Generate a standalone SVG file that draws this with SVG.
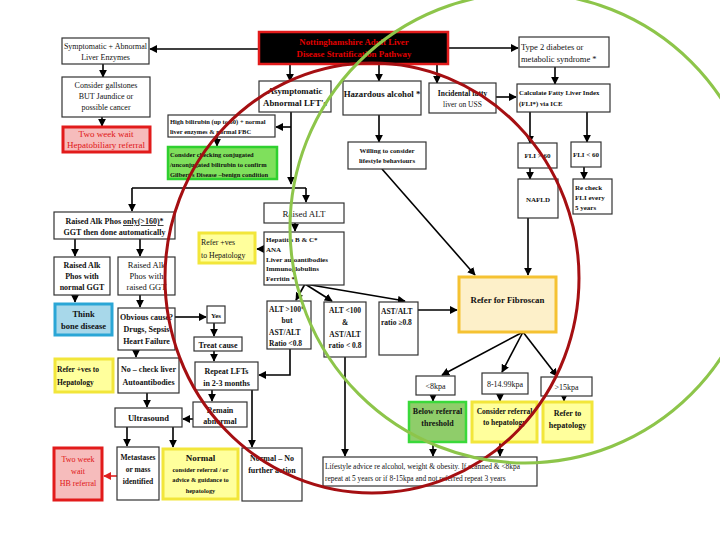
<svg xmlns="http://www.w3.org/2000/svg" width="720" height="540" viewBox="0 0 720 540">
<defs>
<marker id="ah" viewBox="0 0 10 10" refX="9" refY="5" markerWidth="5" markerHeight="5" orient="auto"><path d="M0,0 L10,5 L0,10 z" fill="#000"/></marker>
<marker id="ahr" viewBox="0 0 10 10" refX="9" refY="5" markerWidth="5" markerHeight="5" orient="auto"><path d="M0,0 L10,5 L0,10 z" fill="#e02020"/></marker>
<style>
text{font-family:"Liberation Serif","Times New Roman",serif;fill:#111;font-size:8.5px}
.c{text-anchor:middle}
.b{font-weight:bold}
.box{fill:#fff;stroke:#333;stroke-width:1.2}
.red{fill:#f6bcbc;stroke:#e21b1b;stroke-width:3}
.redt{fill:#e01515}
.yel{fill:#ffff9c;stroke:#f2e63a;stroke-width:3}
.grn{fill:#7fe05c;stroke:#2fd02f;stroke-width:2.5}
.blu{fill:#a8d8ea;stroke:#2aa6d6;stroke-width:3}
.conn line,.conn polyline{stroke:#000;stroke-width:1.6;fill:none;marker-end:url(#ah)}
</style>
</defs>
<rect width="720" height="540" fill="#fff"/>

<g class="conn">
<line x1="260" y1="49" x2="150" y2="49"/>
<line x1="103" y1="64" x2="103" y2="77"/>
<line x1="102" y1="117" x2="102" y2="126"/>
<line x1="290" y1="65" x2="290" y2="81"/>
<line x1="379" y1="65" x2="379" y2="81"/>
<line x1="437" y1="65" x2="437" y2="83"/>
<line x1="449" y1="48" x2="518" y2="48"/>
<line x1="496" y1="97" x2="516" y2="97"/>
<line x1="555" y1="67" x2="555" y2="84"/>
<line x1="530" y1="112" x2="530" y2="143"/>
<line x1="587" y1="112" x2="587" y2="142"/>
<line x1="530" y1="168" x2="530" y2="179"/>
<line x1="584" y1="167" x2="584" y2="179"/>
<line x1="528" y1="218" x2="528" y2="275"/>
<line x1="379" y1="115" x2="379" y2="142"/>
<line x1="382" y1="169" x2="475" y2="275"/>
<line x1="291" y1="112" x2="291" y2="184"/>
<line x1="291" y1="127" x2="276" y2="127"/>
<line x1="217" y1="137" x2="217" y2="146"/>
<line x1="132" y1="188" x2="306" y2="188" style="marker-end:none"/>
<line x1="132" y1="188" x2="132" y2="211"/>
<line x1="306" y1="188" x2="306" y2="202"/>
<line x1="75" y1="239" x2="75" y2="256"/>
<line x1="140" y1="239" x2="140" y2="256"/>
<line x1="75" y1="295" x2="75" y2="302"/>
<line x1="140" y1="295" x2="140" y2="307"/>
<line x1="175" y1="317" x2="206" y2="317"/>
<line x1="214" y1="323" x2="214" y2="336"/>
<line x1="214" y1="351" x2="214" y2="361"/>
<polyline points="290,349 290,375 259,375"/>
<line x1="212" y1="390" x2="212" y2="401"/>
<line x1="252" y1="390" x2="252" y2="447"/>
<line x1="136" y1="350" x2="136" y2="357"/>
<line x1="147" y1="393" x2="147" y2="407"/>
<line x1="193" y1="419" x2="183" y2="419"/>
<line x1="127" y1="427" x2="127" y2="446"/>
<line x1="173" y1="427" x2="173" y2="447"/>
<line x1="117" y1="476" x2="104" y2="476" style="stroke:#e02020;marker-end:url(#ahr)"/>
<line x1="295" y1="223" x2="295" y2="231"/>
<line x1="264" y1="249" x2="257" y2="249"/>
<line x1="305" y1="284" x2="296" y2="300"/>
<line x1="305" y1="284" x2="332" y2="301"/>
<line x1="305" y1="284" x2="405" y2="301"/>
<line x1="418" y1="310" x2="457" y2="310"/>
<line x1="345" y1="357" x2="345" y2="456"/>
<line x1="523" y1="332" x2="442" y2="375"/>
<line x1="523" y1="332" x2="502" y2="372"/>
<line x1="523" y1="332" x2="557" y2="376"/>
<line x1="433" y1="395" x2="433" y2="401"/>
<line x1="500" y1="394" x2="500" y2="401"/>
<line x1="564" y1="396" x2="564" y2="401"/>
<line x1="433" y1="442" x2="433" y2="456"/>
<line x1="500" y1="442" x2="500" y2="456"/>
</g>

<g id="title"><rect x="259" y="32" width="189" height="32" fill="#000" stroke="#e21b1b" stroke-width="2.5"/>
<text class="c b" x="354" y="45" style="fill:#e00000;font-size:8.8px">Nottinghamshire   Adult Liver</text>
<text class="c b" x="354" y="57" style="fill:#e00000;font-size:8.8px">Disease Stratification Pathway</text></g>

<g id="symptomatic"><rect class="box" x="62" y="38" width="87" height="26"/>
<text class="c" x="105.5" y="49" style="font-size:8px">Symptomatic  + Abnormal</text>
<text class="c" x="105.5" y="60" style="font-size:8px">Liver Enzymes</text></g>

<g id="gallstones"><rect class="box" x="62" y="77" width="88" height="40"/>
<text class="c" x="106" y="88" style="font-size:8px">Consider gallstones</text>
<text class="c" x="106" y="99" style="font-size:8px">BUT Jaundice or</text>
<text class="c" x="106" y="110" style="font-size:8px">possible  cancer</text></g>

<g id="twoweek1"><rect class="red" x="63" y="127" width="87" height="25"/>
<text class="c redt" x="106" y="137" style="font-size:9px">Two week wait</text>
<text class="c redt" x="106" y="148" style="font-size:9px">Hepatobiliary referral</text></g>

<g id="asymptomatic"><rect class="box" x="259" y="81" width="72" height="31"/>
<text class="c b" x="295" y="94" style="font-size:8.8px">Asymptomatic</text>
<text class="c b" x="295" y="106" style="font-size:8.8px">Abnormal LFT's</text></g>

<g id="hazardous"><rect class="box" x="343" y="81" width="78" height="34"/>
<text class="c b" x="382" y="97" style="font-size:8.8px">Hazardous alcohol *</text></g>

<g id="incidental"><rect class="box" x="429" y="83" width="67" height="30"/>
<text class="c b" x="462.5" y="96" style="font-size:7.5px">Incidental fatty</text>
<text class="c" x="462.5" y="107" style="font-size:7.5px">liver on USS</text></g>

<g id="type2"><rect class="box" x="519" y="37" width="90" height="30"/>
<text x="521" y="50" style="font-size:8.5px">Type 2 diabetes or</text>
<text x="521" y="62" style="font-size:8.5px">metabolic syndrome *</text></g>

<g id="calcfli"><rect class="box" x="517" y="84" width="93" height="28"/>
<text class="b" x="519" y="95" style="font-size:6.8px">Calculate Fatty Liver Index</text>
<text class="b" x="519" y="106" style="font-size:6.8px">(FLI*) via ICE</text></g>

<g id="fli60a"><rect class="box" x="518" y="143" width="39" height="25"/>
<text class="c b" x="537.5" y="158" style="font-size:7px">FLI &gt; 60</text></g>

<g id="fli60b"><rect class="box" x="571" y="142" width="30" height="25"/>
<text class="c b" x="586" y="157" style="font-size:7px">FLI &lt; 60</text></g>

<g id="nafld"><rect class="box" x="518" y="179" width="40" height="39"/>
<text class="c b" x="538" y="202" style="font-size:7px">NAFLD</text></g>

<g id="recheck"><rect class="box" x="573" y="179" width="39" height="35"/>
<text class="b" x="575" y="190" style="font-size:7px">Re check</text>
<text class="b" x="575" y="200" style="font-size:7px">FLI every</text>
<text class="b" x="575" y="210" style="font-size:7px">5 years</text></g>

<g id="willing"><rect class="box" x="348" y="142" width="78" height="27"/>
<text class="c b" x="387" y="153" style="font-size:6.8px">Willing to consider</text>
<text class="c b" x="387" y="163" style="font-size:6.8px">lifestyle behaviours</text></g>

<g id="bilirubin"><rect class="box" x="168" y="115" width="107" height="22"/>
<text class="b" x="170" y="124" style="font-size:6.5px">High bilirubin (up to 50) + normal</text>
<text class="b" x="170" y="134" style="font-size:6.5px">liver enzymes &amp; normal FBC</text></g>

<g id="gilbert"><rect class="grn" x="168" y="147" width="109" height="32"/>
<text class="b" x="170" y="157" style="font-size:6.5px">Consider checking  conjugated</text>
<text class="b" x="170" y="167" style="font-size:6.5px">/unconjugated bilirubin to confirm</text>
<text class="b" x="170" y="177" style="font-size:6.5px">Gilbert's Disease –benign condition</text></g>

<g id="alkphos"><rect class="box" x="54" y="212" width="121" height="27"/>
<text class="c b" x="114.5" y="224" style="font-size:8px">Raised Alk Phos <tspan text-decoration="underline">only(&gt;160)*</tspan></text>
<text class="c b" x="114.5" y="235" style="font-size:8px">GGT then done automatically</text></g>

<g id="alknormal"><rect class="box" x="54" y="257" width="56" height="38"/>
<text class="c b" x="82" y="268" style="font-size:8px">Raised Alk</text>
<text class="c b" x="82" y="279" style="font-size:8px">Phos with</text>
<text class="c b" x="82" y="290" style="font-size:8px">normal GGT</text></g>

<g id="alkraised"><rect class="box" x="118" y="257" width="57" height="38"/>
<text class="c" x="146.5" y="268" style="font-size:8.5px">Raised Alk</text>
<text class="c" x="146.5" y="279" style="font-size:8.5px">Phos with</text>
<text class="c" x="146.5" y="290" style="font-size:8.5px">raised GGT</text></g>

<g id="bone"><rect class="blu" x="55" y="304" width="57" height="31"/>
<text class="c b" x="83.5" y="317" style="font-size:8.5px">Think</text>
<text class="c b" x="83.5" y="329" style="font-size:8.5px">bone  disease</text></g>

<g id="obvious"><rect class="box" x="118" y="308" width="57" height="42"/>
<text class="c b" x="146.5" y="320" style="font-size:8px">Obvious cause?</text>
<text class="c b" x="146.5" y="332" style="font-size:8px">Drugs, Sepsis</text>
<text class="c b" x="146.5" y="344" style="font-size:8px">Heart Failure</text></g>

<g id="yes"><rect class="box" x="207" y="306" width="18" height="17"/>
<text class="c b" x="216" y="318" style="font-size:7px">Yes</text></g>

<g id="treat"><rect class="box" x="194" y="337" width="48" height="14"/>
<text class="c b" x="218" y="347.5" style="font-size:8px">Treat cause</text></g>

<g id="repeat"><rect class="box" x="195" y="362" width="63" height="28"/>
<text class="c b" x="226.5" y="374" style="font-size:8px">Repeat LFTs</text>
<text class="c b" x="226.5" y="386" style="font-size:8px">in 2-3 months</text></g>

<g id="remain"><rect class="box" x="193" y="402" width="54" height="25"/>
<text class="c b" x="220" y="413" style="font-size:8px">Remain</text>
<text class="c b" x="220" y="424" style="font-size:8px">abnormal</text></g>

<g id="nocheck"><rect class="box" x="118" y="358" width="61" height="35"/>
<text class="c b" x="148.5" y="372" style="font-size:8px">No – check liver</text>
<text class="c b" x="148.5" y="385" style="font-size:8px">Autoantibodies</text></g>

<g id="referleft"><rect class="yel" x="55" y="359" width="58" height="33"/>
<text class="b" x="57" y="372" style="font-size:7.5px">Refer  +ves to</text>
<text class="b" x="57" y="385" style="font-size:7.5px">Hepatology</text></g>

<g id="ultrasound"><rect class="box" x="115" y="408" width="67" height="19"/>
<text class="c b" x="148.5" y="421" style="font-size:8.5px">Ultrasound</text></g>

<g id="metastases"><rect class="box" x="117" y="447" width="42" height="53"/>
<text class="c b" x="138" y="460" style="font-size:7.5px">Metastases</text>
<text class="c b" x="138" y="472" style="font-size:7.5px">or mass</text>
<text class="c b" x="138" y="484" style="font-size:7.5px">identified</text></g>

<g id="twoweek2"><rect class="red" x="54" y="448" width="48" height="52"/>
<text class="c redt" x="78" y="462" style="font-size:8px">Two week</text>
<text class="c redt" x="78" y="474" style="font-size:8px">wait</text>
<text class="c redt" x="78" y="486" style="font-size:8px">HB referral</text></g>

<g id="normal"><rect class="yel" x="163" y="449" width="75" height="50"/>
<text class="c b" x="200.5" y="461" style="font-size:9px">Normal</text>
<text class="c b" x="200.5" y="472" style="font-size:6.3px">consider referral / or</text>
<text class="c b" x="200.5" y="482" style="font-size:6.3px">advice &amp; guidance to</text>
<text class="c b" x="200.5" y="493" style="font-size:6.3px">hepatology</text></g>

<g id="nofurther"><rect class="box" x="242" y="448" width="60" height="53"/>
<text class="c b" x="272" y="461" style="font-size:8px">Normal – No</text>
<text class="c b" x="272" y="473" style="font-size:8px">further action</text></g>

<g id="raisedalt"><rect class="box" x="264" y="203" width="80" height="20"/>
<text class="c" x="304" y="216.5" style="font-size:9px">Raised ALT</text></g>

<g id="hepatitis"><rect class="box" x="264" y="232" width="80" height="53"/>
<text class="b" x="266" y="242" style="font-size:7px">Hepatitis B &amp; C*</text>
<text class="b" x="266" y="252" style="font-size:7px">ANA</text>
<text class="b" x="266" y="262" style="font-size:7px">Liver  autoantibodies</text>
<text class="b" x="266" y="271" style="font-size:7px">Immunoglobulins</text>
<text class="b" x="266" y="281" style="font-size:7px">Ferritin *</text></g>

<g id="refermid"><rect class="yel" x="199" y="233" width="56" height="30"/>
<text x="201" y="245" style="font-size:7.8px">Refer  +ves</text>
<text x="201" y="258" style="font-size:7.8px">to Hepatology</text></g>

<g id="alt100a"><rect class="box" x="267" y="301" width="44" height="48"/>
<text class="b" x="269" y="312" style="font-size:7.5px">ALT &gt;100*</text>
<text class="c b" x="287" y="323" style="font-size:7.5px">but</text>
<text class="b" x="269" y="335" style="font-size:7.5px">AST/ALT</text>
<text class="b" x="269" y="346" style="font-size:7.5px">Ratio  &lt;0.8</text></g>

<g id="alt100b"><rect class="box" x="324" y="302" width="42" height="55"/>
<text class="c b" x="345" y="313" style="font-size:7.5px">ALT &lt;100</text>
<text class="c b" x="345" y="325" style="font-size:7.5px">&amp;</text>
<text class="c b" x="345" y="337" style="font-size:7.5px">AST/ALT</text>
<text class="c b" x="345" y="348" style="font-size:7.5px">ratio &lt; 0.8</text></g>

<g id="astalt"><rect class="box" x="379" y="302" width="39" height="53"/>
<text class="b" x="381" y="314" style="font-size:7.5px">AST/ALT</text>
<text class="b" x="381" y="325" style="font-size:7.5px">ratio ≥0.8</text></g>

<g id="fibroscan"><rect x="459" y="277" width="97" height="55" fill="#fdf0c9" stroke="#f5c232" stroke-width="3"/>
<text class="c b" x="507.5" y="303" style="font-size:8.8px">Refer for Fibroscan</text></g>

<g id="kpa8"><rect class="box" x="416" y="376" width="39" height="19"/>
<text class="c" x="435.5" y="389" style="font-size:8px">&lt;8kpa</text></g>

<g id="kpa814"><rect class="box" x="482" y="373" width="46" height="21"/>
<text class="c" x="505" y="387" style="font-size:8px">8-14.99kpa</text></g>

<g id="kpa15"><rect class="box" x="541" y="377" width="51" height="19"/>
<text class="c" x="566.5" y="390" style="font-size:8px">&gt;15kpa</text></g>

<g id="below"><rect x="409" y="402" width="57" height="40" fill="#8fcd6a" stroke="#3ad93a" stroke-width="2.5"/>
<text class="c b" x="437.5" y="414" style="font-size:8px">Below referral</text>
<text class="c b" x="437.5" y="426" style="font-size:8px">threshold</text></g>

<g id="considerref"><rect class="yel" x="472" y="402" width="65" height="40"/>
<text class="c b" x="504.5" y="414" style="font-size:7.5px">Consider referral</text>
<text class="c b" x="504.5" y="425" style="font-size:7.5px">to hepatology</text></g>

<g id="refertohep"><rect class="yel" x="543" y="402" width="49" height="40"/>
<text class="c b" x="567.5" y="416" style="font-size:8px">Refer to</text>
<text class="c b" x="567.5" y="428" style="font-size:8px">hepatology</text></g>

<g id="lifestyle"><rect class="box" x="323" y="457" width="214" height="29"/>
<text x="325" y="469" style="font-size:7.4px">Lifestyle advice re  alcohol, weight &amp; obesity. If scanned &amp; &lt;8kpa</text>
<text x="325" y="481" style="font-size:7.4px">repeat at 5 years or if 8-15kpa and not referred repeat  3  years</text></g>

<g id="circles" fill="none" stroke-width="3">
<ellipse cx="372" cy="278" rx="207" ry="215" stroke="#a50f12"/>
<circle cx="525" cy="228" r="235" stroke="#8dc54a"/>
</g>
</svg>
